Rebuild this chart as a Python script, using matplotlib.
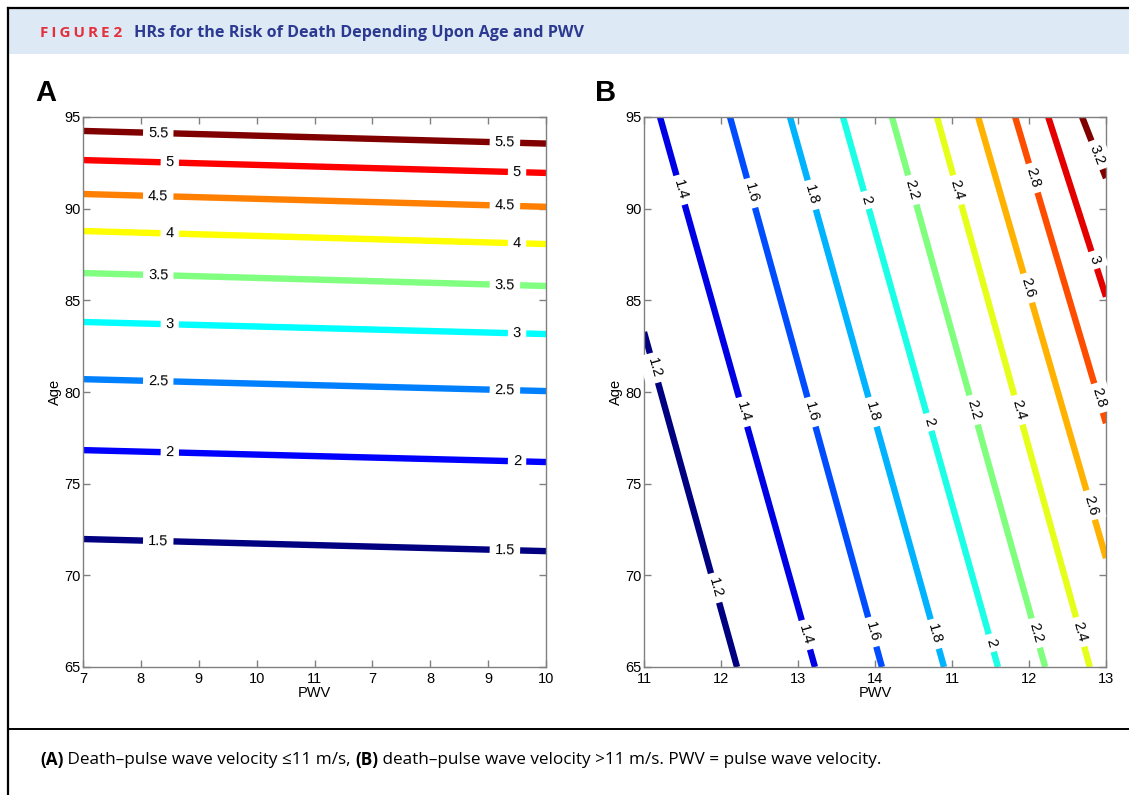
import numpy as np
import matplotlib
matplotlib.use('Agg')
import matplotlib.pyplot as plt
from matplotlib.lines import Line2D
from matplotlib.patches import Rectangle

plt.rcParams['font.family'] = ['Liberation Sans', 'DejaVu Sans']

# ---- panel A: HR contours, PWV <= 11 m/s ----
a_levels = [1.5, 2, 2.5, 3, 3.5, 4, 4.5, 5, 5.5]
a_age_left = [71.98, 76.83, 80.70, 83.82, 86.49, 88.78, 90.80, 92.65, 94.24]
a_age_right = [71.32, 76.18, 80.05, 83.16, 85.78, 88.07, 90.10, 91.95, 93.55]
a_label_x = [[1.3, 7.29], [1.5, 7.5], [1.3, 7.29], [1.5, 7.5], [1.3, 7.29],
             [1.5, 7.5], [1.3, 7.29], [1.5, 7.5], [1.3, 7.29]]
a_xticklabels = ['7', '8', '9', '10', '11', '7', '8', '9', '10']

# ---- panel B: HR contours, PWV > 11 m/s ----
b_levels = [1.2, 1.4, 1.6, 1.8, 2, 2.2, 2.4, 2.6, 2.8, 3, 3.2]
b_start_x = [0.0, 0.208, 1.117, 1.896, 2.584, 3.22, 3.805, 4.34, 4.82, 5.25, 5.69]
b_start_age = [83.27, 95, 95, 95, 95, 95, 95, 95, 95, 95, 95]
b_end_x = [1.208, 2.22, 3.09, 3.896, 4.597, 5.21, 5.79, 6, 6, 6, 6]
b_end_age = [65, 65, 65, 65, 65, 65, 65, 70.94, 78.3, 85.2, 91.67]
b_label_age = [[81.31, 69.31], [91.02, 78.91, 66.75], [90.85, 78.91, 66.91],
               [90.75, 78.91, 66.8], [90.47, 78.36, 66.31], [91.02, 79.02, 66.85],
               [91.02, 79.02, 66.91], [85.67, 73.83], [91.67, 79.67], [87.2],
               [92.93]]
b_xticklabels = ['11', '12', '13', '14', '11', '12', '13']


def jet(v):
    # matlab style jet
    r = np.clip(1.5 - abs(4 * v - 3), 0, 1)
    g = np.clip(1.5 - abs(4 * v - 2), 0, 1)
    b = np.clip(1.5 - abs(4 * v - 1), 0, 1)
    return (r, g, b)


W, H = 1129, 795
fig = plt.figure(figsize=(W / 100, H / 100), dpi=100)


def fx(px):
    return px / W


def fy(py):
    return 1 - py / H


# frame and header
fig.patches.append(Rectangle((fx(9), fy(54)), 1, fy(9) - fy(54), transform=fig.transFigure,
                             facecolor='#dde9f5', edgecolor='none', zorder=0))
fig.lines.append(Line2D([fx(8), 1], [fy(8), fy(8)], transform=fig.transFigure, color='black', lw=1.6))
fig.lines.append(Line2D([fx(8), fx(8)], [fy(8), 0], transform=fig.transFigure, color='black', lw=1.6))
fig.lines.append(Line2D([fx(8), 1], [fy(729), fy(729)], transform=fig.transFigure, color='black', lw=1.4))

hfont = ['Open Sans', 'DejaVu Sans']
fig.text(fx(40), fy(33), '\u2009'.join('FIGURE') + ' 2', color='#e3303c', fontsize=11, weight='bold',
         va='center', family=hfont)
fig.text(fx(134), fy(33), 'HRs for the Risk of Death Depending Upon Age and PWV', color='#2b3990',
         fontsize=11.6, weight='bold', va='center', family=hfont)

# caption
c1 = fig.text(fx(40), fy(760), '(A)', fontsize=12.3, weight='bold', va='center', family=hfont)
c2 = fig.text(0, 0, ' Death\u2013pulse wave velocity \u226411 m/s, ', fontsize=12.3, va='center',
              family=hfont)
c3 = fig.text(0, 0, '(B)', fontsize=12.3, weight='bold', va='center', family=hfont)
c4 = fig.text(0, 0, ' death\u2013pulse wave velocity >11 m/s. PWV = pulse wave velocity.', fontsize=12.3,
              va='center', family=hfont)

fig.canvas.draw()
r = fig.canvas.get_renderer()
prev = c1
for t in [c2, c3, c4]:
    bb = prev.get_window_extent(r)
    t.set_position((bb.x1 / fig.bbox.width, fy(760)))
    prev = t

fig.text(fx(46), fy(93), 'A', fontsize=21, weight='bold', ha='center', va='center')
fig.text(fx(606), fy(93), 'B', fontsize=21, weight='bold', ha='center', va='center')

axA = fig.add_axes([fx(83), fy(667), fx(546 - 83), (667 - 117) / H])
axB = fig.add_axes([fx(644), fy(667), fx(1106 - 644), (667 - 117) / H])

for ax, labels in [(axA, a_xticklabels), (axB, b_xticklabels)]:
    ax.set_xlim(0, len(labels) - 1)
    ax.set_ylim(65, 95)
    ax.set_xticks(range(len(labels)))
    ax.set_xticklabels(labels)
    ax.set_yticks([65, 70, 75, 80, 85, 90, 95])
    ax.tick_params(direction='in', top=True, right=True, length=5, width=1, color='#808080',
                   labelsize=10.5)
    ax.tick_params(axis='x', pad=3.5)
    ax.tick_params(axis='y', pad=1.5)
    for s in ax.spines.values():
        s.set_color('#808080')
        s.set_linewidth(1)
    ax.set_xlabel('PWV', fontsize=10.5, labelpad=0)
    ax.set_ylabel('Age', fontsize=10.5, labelpad=2)

label_box = dict(boxstyle='square,pad=0.35', facecolor='white', edgecolor='none')

# panel A
lo, hi = min(a_levels), max(a_levels)
xa = [0, len(a_xticklabels) - 1]
for lev, yl, yr, lx in zip(a_levels, a_age_left, a_age_right, a_label_x):
    axA.plot(xa, [yl, yr], color=jet((lev - lo) / (hi - lo)), lw=4.6, solid_capstyle='butt', zorder=2)
    ang = np.degrees(np.arctan2(yr - yl, xa[1] - xa[0]))
    for x in lx:
        y = np.interp(x, xa, [yl, yr])
        axA.text(x, y, f'{lev:g}', fontsize=10.5, ha='center', va='center', rotation=ang,
                 transform_rotates_text=True, rotation_mode='anchor', bbox=label_box, zorder=3)

# panel B
lo, hi = min(b_levels), max(b_levels)
for lev, x0, y0, x1, y1, ages in zip(b_levels, b_start_x, b_start_age, b_end_x, b_end_age, b_label_age):
    axB.plot([x0, x1], [y0, y1], color=jet((lev - lo) / (hi - lo)), lw=4.6, solid_capstyle='butt', zorder=2)
    ang = np.degrees(np.arctan2(y1 - y0, x1 - x0))
    for y in ages:
        x = np.interp(y, [y1, y0], [x1, x0])
        axB.text(x, y, f'{lev:g}', fontsize=10.5, ha='center', va='center', rotation=ang,
                 transform_rotates_text=True, rotation_mode='anchor', bbox=label_box, zorder=3)

fig.savefig('out.png', dpi=100)
